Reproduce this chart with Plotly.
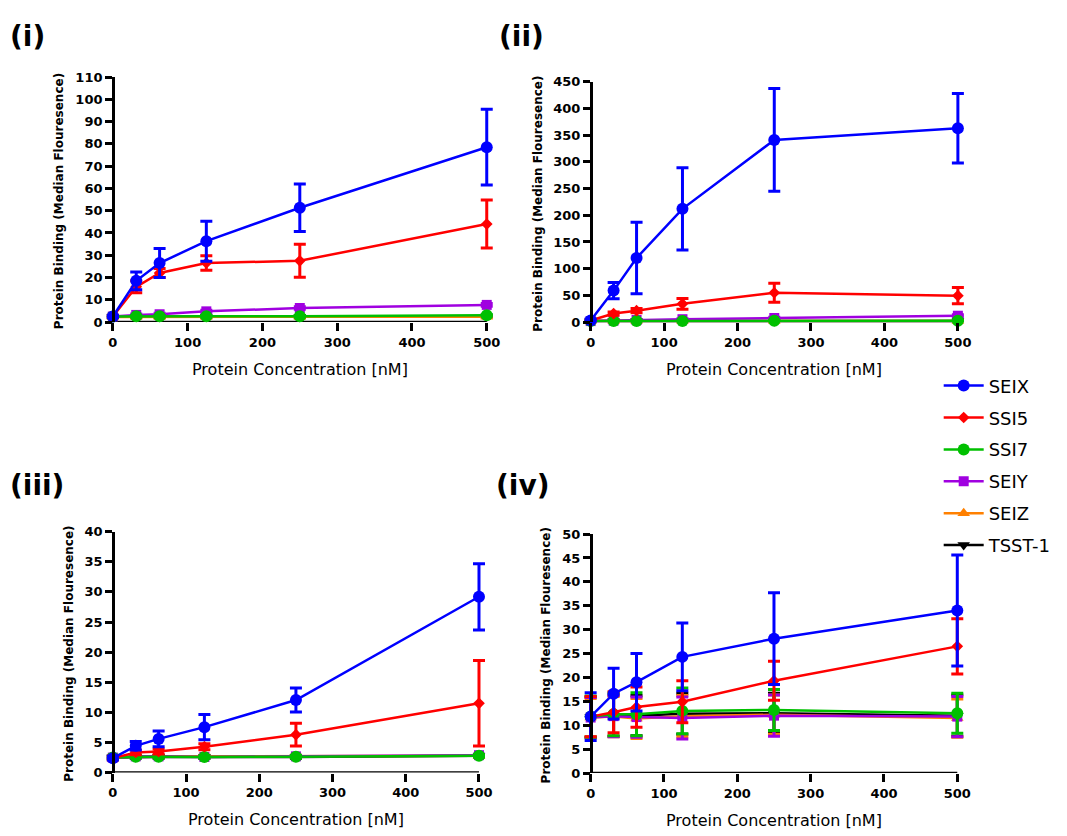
import plotly.graph_objects as go

# ---------------- data ----------------
conc = [0, 31.25, 62.5, 125, 250, 500]
series_names = ["SEIX", "SSI5", "SSI7", "SEIY", "SEIZ", "TSST-1"]

# Panel (i)
p1_SEIX = [2.5, 18.5, 26.5, 36.3, 51.3, 78.5]
p1_SEIX_err = [0.5, 4.0, 6.5, 9.0, 10.7, 17.0]
p1_SSI5 = [2.5, 15.8, 22.0, 26.5, 27.5, 44.0]
p1_SSI5_err = [0.5, 2.7, 2.0, 3.3, 7.4, 10.8]
p1_SSI7 = [2.5, 2.6, 2.6, 2.6, 2.6, 3.0]
p1_SSI7_err = [0.3, 0.3, 0.3, 0.3, 0.3, 0.3]
p1_SEIY = [2.5, 3.2, 3.5, 4.8, 6.3, 7.7]
p1_SEIY_err = [0.3, 0.4, 0.4, 0.5, 0.6, 0.6]
p1_SEIZ = [2.3, 2.3, 2.3, 2.3, 2.3, 2.4]
p1_SEIZ_err = [0.2, 0.2, 0.2, 0.2, 0.2, 0.2]
p1_TSST1 = [2.4, 2.4, 2.4, 2.4, 2.4, 2.5]
p1_TSST1_err = [0.2, 0.2, 0.2, 0.2, 0.2, 0.2]

# Panel (ii)
p2_SEIX = [3, 59, 120, 212, 341, 363]
p2_SEIX_err = [3, 15, 67, 77, 96, 65]
p2_SSI5 = [3, 16, 21.4, 34.3, 55, 49.6]
p2_SSI5_err = [1, 3, 4, 10, 18, 15]
p2_SSI7 = [2, 2, 2, 2, 2.5, 2.5]
p2_SSI7_err = [0.5, 0.5, 0.5, 0.5, 0.5, 0.5]
p2_SEIY = [2, 3, 4, 5.5, 7.7, 12]
p2_SEIY_err = [0.5, 0.5, 0.8, 1, 1.5, 2]
p2_SEIZ = [2, 2, 2, 2, 2, 2]
p2_SEIZ_err = [0.5, 0.5, 0.5, 0.5, 0.5, 0.5]
p2_TSST1 = [2, 2, 2, 2, 2, 2]
p2_TSST1_err = [0.5, 0.5, 0.5, 0.5, 0.5, 0.5]

# Panel (iii)
p3_SEIX = [2.4, 4.45, 5.6, 7.55, 12.05, 29.2]
p3_SEIX_err = [0.3, 0.7, 1.3, 2.1, 2.0, 5.5]
p3_SSI5 = [2.4, 3.35, 3.5, 4.3, 6.3, 11.5]
p3_SSI5_err = [0.3, 0.4, 0.4, 0.5, 1.9, 7.1]
p3_SSI7 = [2.5, 2.65, 2.65, 2.6, 2.65, 2.8]
p3_SSI7_err = [0.2, 0.2, 0.2, 0.2, 0.2, 0.2]
p3_SEIY = [2.5, 2.7, 2.7, 2.6, 2.7, 2.9]
p3_SEIY_err = [0.2, 0.2, 0.2, 0.2, 0.2, 0.2]
p3_SEIZ = [2.5, 2.7, 2.7, 2.7, 2.7, 2.8]
p3_SEIZ_err = [0.2, 0.2, 0.2, 0.2, 0.2, 0.2]
p3_TSST1 = [2.5, 2.6, 2.6, 2.6, 2.6, 2.8]
p3_TSST1_err = [0.2, 0.2, 0.2, 0.2, 0.2, 0.2]

# Panel (iv)
p4_SEIX = [11.8, 16.6, 19.0, 24.3, 28.1, 34.0]
p4_SEIX_err = [5.0, 5.3, 6.0, 7.1, 9.6, 11.6]
p4_SSI5 = [11.8, 12.7, 13.8, 14.9, 19.3, 26.5]
p4_SSI5_err = [4.2, 4.3, 4.2, 4.4, 4.1, 5.8]
p4_SSI7 = [11.8, 12.3, 12.3, 13.0, 13.2, 12.5]
p4_SSI7_err = [4.3, 4.5, 4.5, 4.8, 4.3, 4.2]
p4_SEIY = [11.6, 11.9, 11.7, 11.5, 12.0, 11.8]
p4_SEIY_err = [4.2, 4.3, 4.2, 4.4, 4.3, 4.2]
p4_SEIZ = [11.6, 11.8, 11.4, 11.9, 12.2, 11.5]
p4_SEIZ_err = [4.0, 4.2, 4.2, 4.3, 4.1, 4.0]
p4_TSST1 = [11.7, 12.0, 12.0, 12.4, 12.5, 12.0]
p4_TSST1_err = [4.2, 4.3, 4.2, 4.3, 4.2, 4.3]

panel_labels = ["(i)", "(ii)", "(iii)", "(iv)"]
x_title = "Protein Concentration [nM]"
y_title = "Protein Binding (Median Flouresence)"

panels = [
    {"SEIX": (p1_SEIX, p1_SEIX_err), "SSI5": (p1_SSI5, p1_SSI5_err), "SSI7": (p1_SSI7, p1_SSI7_err),
     "SEIY": (p1_SEIY, p1_SEIY_err), "SEIZ": (p1_SEIZ, p1_SEIZ_err), "TSST-1": (p1_TSST1, p1_TSST1_err)},
    {"SEIX": (p2_SEIX, p2_SEIX_err), "SSI5": (p2_SSI5, p2_SSI5_err), "SSI7": (p2_SSI7, p2_SSI7_err),
     "SEIY": (p2_SEIY, p2_SEIY_err), "SEIZ": (p2_SEIZ, p2_SEIZ_err), "TSST-1": (p2_TSST1, p2_TSST1_err)},
    {"SEIX": (p3_SEIX, p3_SEIX_err), "SSI5": (p3_SSI5, p3_SSI5_err), "SSI7": (p3_SSI7, p3_SSI7_err),
     "SEIY": (p3_SEIY, p3_SEIY_err), "SEIZ": (p3_SEIZ, p3_SEIZ_err), "TSST-1": (p3_TSST1, p3_TSST1_err)},
    {"SEIX": (p4_SEIX, p4_SEIX_err), "SSI5": (p4_SSI5, p4_SSI5_err), "SSI7": (p4_SSI7, p4_SSI7_err),
     "SEIY": (p4_SEIY, p4_SEIY_err), "SEIZ": (p4_SEIZ, p4_SEIZ_err), "TSST-1": (p4_TSST1, p4_TSST1_err)},
]
y_ranges = [(0, 110, 10), (0, 450, 50), (0, 40, 5), (0, 50, 5)]
x_min, x_max, x_dtick = 0, 500, 100

# ---------------- styles ----------------
W, H = 1067, 836
colors = {"SEIX": "#0000FF", "SSI5": "#FF0000", "SSI7": "#00C000",
          "SEIY": "#A000E0", "SEIZ": "#FF8000", "TSST-1": "#000000"}
symbols = {"SEIX": "circle", "SSI5": "diamond", "SSI7": "circle",
           "SEIY": "square", "SEIZ": "triangle-up", "TSST-1": "triangle-down"}
msizes = {"SEIX": 12, "SSI5": 9, "SSI7": 12, "SEIY": 10, "SEIZ": 11, "TSST-1": 11}

# pixel geometry of each panel: (px of x=0, px of x=500, px of y=0, px of y=top)
geom = [(113.5, 489.5, 320.8, 71.3),
        (594.0, 963.3, 320.9, 76.0),
        (113.5, 481.7, 779.6, 534.3),
        (594.0, 962.7, 780.0, 536.7)]
XPAD = 10  # data-unit padding so error-bar caps at the ends are not clipped

draw_order = ["TSST-1", "SEIZ", "SEIY", "SSI7", "SSI5", "SEIX"]

fig = go.Figure()
for i, pdata in enumerate(panels):
    sfx = "" if i == 0 else str(i + 1)
    for name in draw_order:
        vals, errs = pdata[name]
        fig.add_trace(go.Scatter(
            x=conc, y=vals, name=name, legendgroup=name, showlegend=(i == 0),
            legendrank=series_names.index(name) + 1,
            mode="lines+markers", cliponaxis=False,
            line=dict(color=colors[name], width=2.5),
            marker=dict(symbol=symbols[name], size=msizes[name], color=colors[name],
                        line=dict(width=0)),
            error_y=dict(type="data", array=errs, visible=True, color=colors[name],
                         thickness=3, width=6),
            xaxis="x" + sfx, yaxis="y" + sfx,
        ))

tick_font = dict(family="DejaVu Sans", size=13, color="black", weight="bold")
layout = dict(width=W, height=H, margin=dict(l=0, r=0, t=0, b=0),
              paper_bgcolor="white", plot_bgcolor="white",
              showlegend=True,
              legend=dict(x=944 / W, y=1 - 367 / H, xanchor="left", yanchor="top",
                          traceorder="grouped", tracegroupgap=5.5,
                          font=dict(family="DejaVu Sans", size=18, color="black"),
                          bgcolor="rgba(0,0,0,0)", itemwidth=40))
annotations = []
shapes = []
for i, (x0, x5, y0, yt) in enumerate(geom):
    sfx = "" if i == 0 else str(i + 1)
    ymin, ymax, dt = y_ranges[i]
    k = (x5 - x0) / (x_max - x_min)
    layout["xaxis" + sfx] = dict(
        domain=[(x0 - XPAD * k) / W, (x5 + XPAD * k) / W], range=[x_min - XPAD, x_max + XPAD],
        anchor="y" + sfx,
        showgrid=False, zeroline=False, showline=False,
        ticks="outside", ticklen=8, tickwidth=2.5, tickcolor="black",
        tickmode="linear", tick0=0, dtick=x_dtick, tickfont=tick_font, fixedrange=True)
    layout["yaxis" + sfx] = dict(
        domain=[1 - y0 / H, 1 - yt / H], range=[ymin, ymax], anchor="free",
        position=x0 / W,
        showgrid=False, zeroline=False, showline=True, linecolor="black", linewidth=2.5,
        ticks="outside", ticklen=7, tickwidth=2.5, tickcolor="black",
        tickmode="linear", tick0=0, dtick=dt, tickfont=tick_font, fixedrange=True)
    # x-axis baseline from x=0 to x=500
    shapes.append(dict(type="line", xref="x" + sfx, yref="y" + sfx,
                       x0=x_min, x1=x_max, y0=ymin, y1=ymin,
                       line=dict(color="black", width=2.5), layer="below"))
    # x title
    annotations.append(dict(text=x_title, xref="paper", yref="paper",
                            x=(x0 + x5) / 2 / W, y=1 - (y0 + 48) / H,
                            xanchor="center", yanchor="middle", showarrow=False,
                            font=dict(family="DejaVu Sans", size=16, color="black")))

ytitle_x = [60, 541, 70, 549]
for i, (x0, x5, y0, yt) in enumerate(geom):
    annotations.append(dict(text=y_title, xref="paper", yref="paper",
                            x=ytitle_x[i] / W, y=1 - ((y0 + yt) / 2 + 2) / H,
                            xanchor="center", yanchor="middle", showarrow=False, textangle=-90,
                            font=dict(family="DejaVu Sans", size=12, color="black", weight="bold")))

label_pos = [(8, 30), (500, 30), (8, 487), (497, 487)]
for lab, (lx, ly) in zip(panel_labels, label_pos):
    annotations.append(dict(text=lab, xref="paper", yref="paper", x=lx / W, y=1 - ly / H,
                            xanchor="left", yanchor="middle", showarrow=False,
                            font=dict(family="DejaVu Sans", size=28, color="black", weight="bold")))

layout["annotations"] = annotations
layout["shapes"] = shapes
fig.update_layout(**layout)
fig.write_html("out.html", config={"displayModeBar": False},
               post_script="document.body.style.margin='0';document.body.style.overflow='hidden';")
